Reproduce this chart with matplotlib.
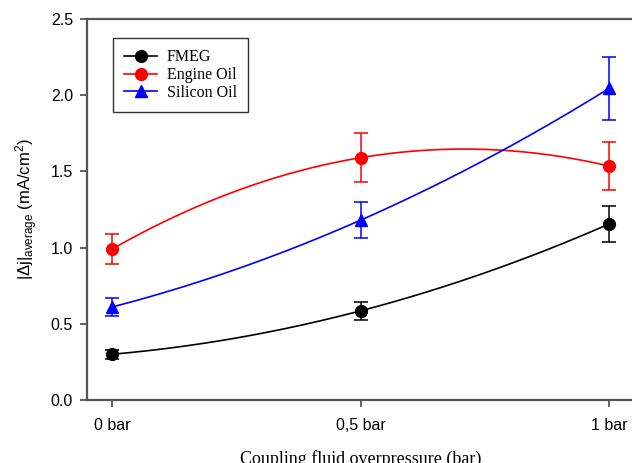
import numpy as np
import matplotlib
matplotlib.use("Agg")
import matplotlib.pyplot as plt

plt.rcParams['mathtext.fontset'] = 'custom'
plt.rcParams['mathtext.rm'] = 'Liberation Sans'
plt.rcParams['mathtext.it'] = 'Liberation Sans'

x = [0.0, 0.5, 1.0]
xticklabels = ["0 bar", "0,5 bar", "1 bar"]
fmeg = [0.30, 0.585, 1.155]
fmeg_err = [0.03, 0.06, 0.115]
engine = [0.99, 1.59, 1.535]
engine_err = [0.10, 0.16, 0.155]
silicon = [0.61, 1.18, 2.045]
silicon_err = [0.062, 0.12, 0.205]

fig = plt.figure(figsize=(6.32, 4.63), dpi=100)
ax = fig.add_axes([87/632, 1-400/463, (635-87)/632, (400-19)/463])

xs = np.linspace(0, 1, 200)
series = [("FMEG", fmeg, fmeg_err, "black", "o"),
          ("Engine Oil", engine, engine_err, "red", "o"),
          ("Silicon Oil", silicon, silicon_err, "blue", "^")]
for name, y, e, c, m in series:
    coef = np.polyfit(x, y, 2)
    ax.plot(xs, np.polyval(coef, xs), color=c, lw=1.2)
    ax.errorbar(x, y, yerr=e, fmt=m, color=c, ms=8.5, capsize=5, elinewidth=1.1, capthick=1.1)
    ax.plot([], [], color=c, marker=m, ms=8.5, lw=1.2, label=name)

ax.set_xlim(-0.0503, 1.052)
ax.set_ylim(0, 2.5)
ax.set_yticks([0, 0.5, 1.0, 1.5, 2.0, 2.5])
ax.set_yticklabels(["0.0", "0.5", "1.0", "1.5", "2.0", "2.5"], family="Liberation Sans", fontsize=11.5)
ax.set_xticks(x)
ax.set_xticklabels(xticklabels, family="Liberation Sans", fontsize=11.5)
ax.tick_params(direction='out', length=5, width=1.2, color='#444444')
ax.tick_params(axis='y', pad=5)
ax.tick_params(axis='x', pad=8)
for s in ['left', 'bottom', 'top']:
    ax.spines[s].set_color('#555555')
    ax.spines[s].set_linewidth(1.6)
ax.spines['right'].set_visible(False)

ax.set_ylabel(r'$|\Delta\mathrm{j}|_{\mathrm{average}}$ (mA/cm$^2$)', family="Liberation Sans", fontsize=12, labelpad=8)
ax.set_xlabel("Coupling fluid overpressure (bar)", family="Liberation Serif", fontsize=13, labelpad=12)

leg = ax.legend(loc='upper left', bbox_to_anchor=(0.047, 0.95), borderaxespad=0,
                prop={'family': 'Liberation Serif', 'size': 11.5},
                fancybox=False, edgecolor='#333333', framealpha=1, handlelength=2.1,
                borderpad=0.7, labelspacing=0.12, handletextpad=0.6)
leg.get_frame().set_linewidth(1.0)

fig.savefig("out.png", dpi=100)
